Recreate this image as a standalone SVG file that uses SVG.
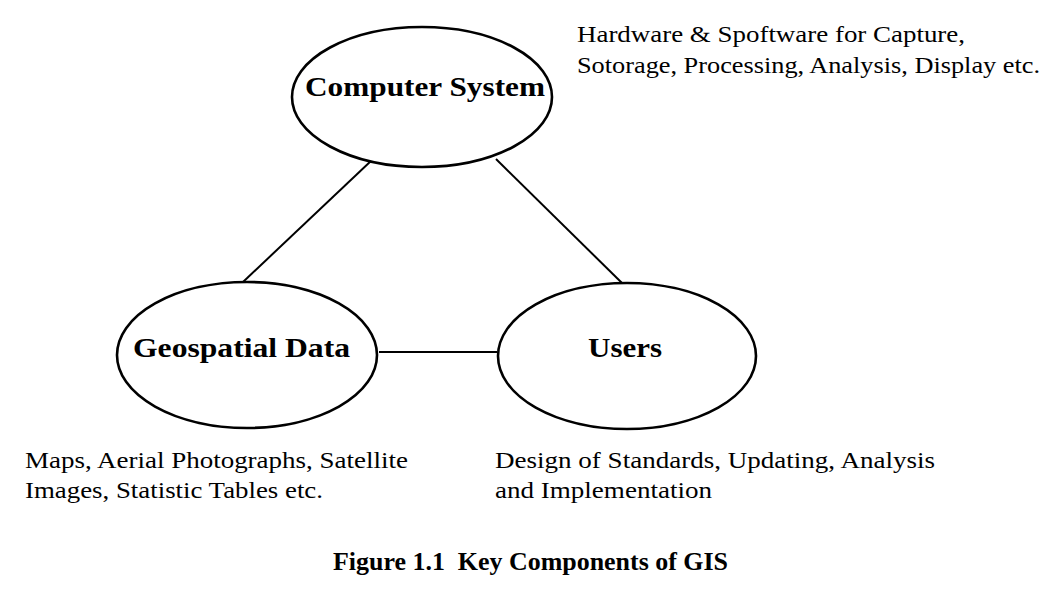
<svg xmlns="http://www.w3.org/2000/svg" width="1056" height="590" viewBox="0 0 1056 590">
  <style>
    .node { fill: #ffffff; stroke: #000000; stroke-width: 2.6; }
    .edge { stroke: #000000; stroke-width: 2; fill: none; }
    .title { font-family: "Liberation Serif", "Times New Roman", serif; font-weight: bold; font-size: 28px; fill: #000000; }
    .desc { font-family: "Liberation Serif", "Times New Roman", serif; font-size: 24px; fill: #000000; }
    .caption { font-family: "Liberation Serif", "Times New Roman", serif; font-weight: bold; font-size: 25px; fill: #000000; white-space: pre; }
  </style>
  <rect width="1056" height="590" fill="#ffffff"/>

  <!-- connectors between the three components -->
  <g id="connectors">
    <line class="edge" x1="372" y1="160" x2="243" y2="282"/>
    <line class="edge" x1="496" y1="159" x2="623" y2="284"/>
    <line class="edge" x1="379" y1="352" x2="497" y2="352" stroke-width="1.5"/>
  </g>

  <g id="computer-system">
    <ellipse class="node" cx="422" cy="97" rx="130" ry="70"/>
    <text class="title" x="305" y="96" textLength="240" lengthAdjust="spacingAndGlyphs">Computer System</text>
  </g>

  <g id="geospatial-data">
    <ellipse class="node" cx="247" cy="355" rx="130" ry="73"/>
    <text class="title" x="133" y="357" textLength="217" lengthAdjust="spacingAndGlyphs">Geospatial Data</text>
  </g>

  <g id="users">
    <ellipse class="node" cx="627" cy="356" rx="129" ry="73"/>
    <text class="title" x="588" y="357" textLength="74" lengthAdjust="spacingAndGlyphs">Users</text>
  </g>

  <!-- descriptions -->
  <g id="desc-computer-system">
    <text class="desc" x="577" y="42" textLength="388" lengthAdjust="spacingAndGlyphs">Hardware &amp; Spoftware for Capture,</text>
    <text class="desc" x="577" y="73" textLength="463" lengthAdjust="spacingAndGlyphs">Sotorage, Processing, Analysis, Display etc.</text>
  </g>
  <g id="desc-geospatial-data">
    <text class="desc" x="25" y="468" textLength="383" lengthAdjust="spacingAndGlyphs">Maps, Aerial Photographs, Satellite</text>
    <text class="desc" x="25" y="498" textLength="298" lengthAdjust="spacingAndGlyphs">Images, Statistic Tables etc.</text>
  </g>
  <g id="desc-users">
    <text class="desc" x="495" y="468" textLength="440" lengthAdjust="spacingAndGlyphs">Design of Standards, Updating, Analysis</text>
    <text class="desc" x="495" y="498" textLength="217" lengthAdjust="spacingAndGlyphs">and Implementation</text>
  </g>

  <text class="caption" x="333" y="570" textLength="395" lengthAdjust="spacingAndGlyphs" xml:space="preserve">Figure 1.1  Key Components of GIS</text>
</svg>
